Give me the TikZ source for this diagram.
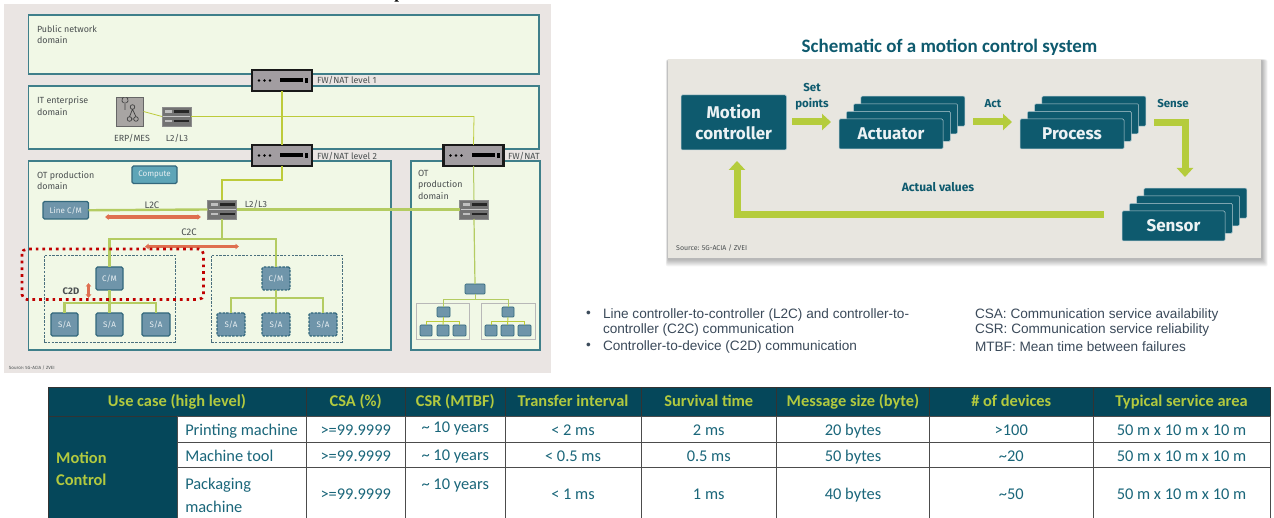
\documentclass[tikz,border=0pt]{standalone}
\usepackage{fontspec}
\setmainfont{Carlito}
\newfontfamily\fira{Fira Sans}
\newfontfamily\arial{Liberation Sans}
\newfontfamily\tms{Liberation Serif}
\usetikzlibrary{arrows.meta,calc}
\definecolor{dom}{HTML}{F1F8E6}
\definecolor{domline}{HTML}{3F7F8A}
\definecolor{panelA}{HTML}{EAE5E3}
\definecolor{panelB}{HTML}{E8E6E0}
\definecolor{devb}{HTML}{6F95AA}
\definecolor{devl}{HTML}{33687C}
\definecolor{gline}{HTML}{B4CC62}
\definecolor{yline}{HTML}{BDCB3A}
\definecolor{oarrow}{HTML}{DF6F50}
\definecolor{redd}{HTML}{C00000}
\definecolor{fwgrey}{HTML}{A29DA1}
\definecolor{tealc}{HTML}{0E5A6E}
\definecolor{lime2}{HTML}{B5CC3C}
\definecolor{thead}{HTML}{05475A}
\definecolor{thtext}{HTML}{B2C93F}
\definecolor{tbody}{HTML}{1A667A}
\definecolor{smallc}{HTML}{4A4F50}
\definecolor{bulletc}{HTML}{3B4A5A}
\tikzset{
  rectnode/.style={rectangle,inner sep=0pt,outer sep=0pt,align=center},
  dombox/.style={rectnode,fill=dom,draw=domline,line width=1.2pt},
  devbox/.style={rectnode,fill=devb,draw=devl,line width=1.3pt,rounded corners=1.5pt,text=white!85!devb,font=\fira\fontsize{8}{8}\selectfont},
  devd/.style={devbox,dash pattern=on 2.5pt off 1.2pt},
  minibox/.style={rectnode,fill=devb,draw=devl,line width=.7pt,rounded corners=1pt},
  groupbox/.style={rectnode,draw=devl!70!gray,line width=.9pt,dash pattern=on 2.5pt off 1.3pt},
  groupg/.style={rectnode,draw=black!28,line width=.7pt},
  fwnode/.style={rectnode,fill=fwgrey,draw=black!90,line width=2.6pt},
  swnode/.style={rectnode,fill=black!55,draw=black!45,line width=.6pt},
  lab/.style={inner sep=0pt,outer sep=0pt,text=smallc,font=\fira\fontsize{8.9}{11.2}\selectfont,align=left},
  thickline/.style={draw=gline,line width=2.4pt},
  thinline/.style={draw=gline,line width=1pt},
  ybus/.style={draw=yline,line width=1.1pt},
  oarr/.style={draw=oarrow,line width=3.2pt,{Latex[length=3.5pt,width=6.5pt]}-{Latex[length=3.5pt,width=6.5pt]}},
  tealbox/.style={rectnode,fill=tealc,draw=white!70!tealc,line width=.5pt,rounded corners=1.2pt,text=white!92!tealc,font=\fira\fontsize{17}{21}\selectfont\bfseries},
  tlab/.style={inner sep=0pt,outer sep=0pt,text=tealc,font=\fira\fontsize{11.5}{16}\selectfont\bfseries,align=center},
  limearrow/.style={draw=lime2,line width=7pt,-{Triangle[length=9pt,width=16pt]}},
  theadc/.style={rectnode,fill=thead,draw=black!80,line width=.7pt,text=thtext,font=\fontsize{16.4}{18}\selectfont\bfseries},
  tcell/.style={rectnode,fill=white,draw=black!70,line width=.8pt,text=tbody,font=\fontsize{16.4}{18}\selectfont},
  bulletxt/.style={inner sep=0pt,outer sep=0pt,anchor=west,text=bulletc,font=\arial\fontsize{13.6}{15}\selectfont},
}
\newcommand\dn[1]{\raisebox{-5.5pt}[0pt][0pt]{#1}}
% box by corners: style, name, x1, y1, x2, y2, text
\newcommand\bx[7]{%
  \pgfmathsetmacro\bxw{#5-(#3)}\pgfmathsetmacro\bxh{#6-(#4)}%
  \pgfmathsetmacro\bxx{(#3+#5)/2}\pgfmathsetmacro\bxy{(#4+#6)/2}%
  \node[#1,minimum width=\bxw pt,minimum height=\bxh pt] (#2) at (\bxx,\bxy) {#7};}
% firewall device
\newcommand\fwdev[3]{%
  \bx{fwnode}{#1}{#2}{#3}{#2+60}{#3+21}{}
  \foreach \dx in {7,12.5,18}{\fill[black] (#2+\dx,#3+10.5) circle (1.4);}
  \fill[black] (#2+28,#3+8.5) rectangle (#2+51,#3+12.5);
  \fill[black] (#2+53,#3+8) rectangle (#2+56,#3+13);}
% L2/L3 switch
\newcommand\swdev[3]{%
  \bx{swnode}{#1}{#2}{#3}{#2+29}{#3+19}{}
  \fill[black!22] (#2+1,#3+8.9) rectangle (#2+28,#3+10.1);
  \foreach \dy in {3.5,13}{
    \fill[black!85] (#2+12,#3+\dy) rectangle (#2+27,#3+\dy+2.4);
    \fill[black!25] (#2+3,#3+\dy) rectangle (#2+10,#3+\dy+2.4);}}
\begin{document}
\begin{tikzpicture}[x=1pt,y=-1pt,line join=miter]
\useasboundingbox (0,0) rectangle (1274,518);
\fill[white] (0,0) rectangle (1274,518);
\node[inner sep=0pt,anchor=base,font=\tms\bfseries\fontsize{17}{17}\selectfont] (cut) at (399,-1) {p};

% ---------- left panel
\fill[panelA] (4,4) rectangle (551,373);
\bx{dombox}{pub}{28.5}{15}{539}{74}{}
\bx{dombox}{it}{28.5}{86}{539}{149}{}
\bx{dombox}{ota}{28.5}{161}{391}{350}{}
\bx{dombox}{otb}{411}{161}{540}{350}{}
\node[lab,anchor=north west] (t1) at (37,25.5) {Public network\\domain};
\node[lab,anchor=north west] (t2) at (37,97) {IT enterprise\\domain};
\node[lab,anchor=north west] (t3) at (37,171.5) {OT production\\domain};
\node[lab,anchor=north west] (t4) at (418,170.5) {OT\\production\\domain};
\node[lab,anchor=west] (fwl1) at (317,80) {FW/NAT level 1};
\node[lab,anchor=west] (fwl2) at (317,156) {FW/NAT level 2};
\node[lab,anchor=west] (fwl3) at (508,156) {FW/NAT};
\node[lab,anchor=center] (erpl) at (132,138) {ERP/MES};
\node[lab,anchor=center] (l23a) at (177,138) {L2/L3};
\node[lab,anchor=center] (l23b) at (256,204) {L2/L3};
\node[lab,anchor=center,font=\fira\fontsize{9.5}{10}\selectfont] (l2c) at (152,205) {L2C};
\node[lab,anchor=center,font=\fira\fontsize{9.5}{10}\selectfont] (c2c) at (189,232) {C2C};
\node[lab,anchor=center,font=\fira\fontsize{9.5}{10}\selectfont\bfseries] (c2d) at (71,291) {C2D};
\node[lab,anchor=west,font=\fira\fontsize{4.5}{5}\selectfont] (srcA) at (9,368) {Source: 5G-ACIA / ZVEI};

\bx{groupbox}{ga}{44}{255}{175}{342}{}
\bx{groupbox}{gb}{211}{255}{342}{342}{}
\bx{groupg}{gc}{416}{303.5}{469}{339}{}
\bx{groupg}{gd}{481}{303.5}{535}{339}{}

% ERP
\bx{rectnode,fill=black!28!panelA,draw=black!60,line width=.8pt}{erp}{116}{97}{143.5}{126}{}
\draw[black!75,line width=.7pt] (123.5,103) arc (120:240:3.2) (126.5,103) arc (60:-60:3.2) (125,102) -- (125,110);
\draw[black!75,line width=.7pt] (132.5,107) circle (2.3) (129.5,119) circle (2.3) (136,119) circle (2.3) (132.5,109.3) -- (129.5,116.7) (132.5,109.3) -- (136,116.7) (131.8,119) -- (133.7,119);

\swdev{swit}{162}{107}
\swdev{swa}{207.5}{200}
\swdev{swb}{459.5}{200}
\fwdev{fw1}{252}{70}
\fwdev{fw2}{252}{145}
\fwdev{fw3}{443.5}{145}

\bx{devbox,fill=devb!85!cyan}{comp}{132}{166}{177}{183.5}{Compute}
\bx{devbox}{linecm}{43}{201.5}{88.5}{219}{Line C/M}
\bx{devbox}{cma}{96}{267}{123}{290}{C/M}
\bx{devd}{cmb}{262}{267}{290}{290}{C/M}
\bx{devbox}{sa1}{51}{313}{78}{336}{S/A}
\bx{devbox}{sa2}{96}{313}{123}{336}{S/A}
\bx{devbox}{sa3}{142}{313}{170}{336}{S/A}
\bx{devd}{sb1}{217}{313}{245}{336}{S/A}
\bx{devd}{sb2}{262}{313}{290}{336}{S/A}
\bx{devd}{sb3}{309}{313}{337}{336}{S/A}
\bx{minibox}{topb}{465}{284}{485}{294}{}
\bx{minibox}{ma}{437}{307}{450}{317}{}
\bx{minibox}{mb}{502}{307}{514}{317}{}
\bx{minibox}{l1}{420}{325}{432}{336}{}
\bx{minibox}{l2}{437}{325}{449}{336}{}
\bx{minibox}{l3}{453}{325}{466}{336}{}
\bx{minibox}{l4}{485}{325}{497}{336}{}
\bx{minibox}{l5}{501}{325}{514}{336}{}
\bx{minibox}{l6}{518}{325}{531}{336}{}

% connectors
\draw[yline,line width=1.2pt] (fw1.south) -- (fw2.north);
\draw[ybus,line width=1.6pt] (fw2.south) -- ++(0,14) -| (swa.north);
\draw[ybus,line width=.8pt] (erp.east) -- (swit.west);
\draw[ybus,line width=.8pt] (swit.east) -- (474,116.5) -- (fw3.north);
\draw[thinline] (fw3.south) -- (swb.north);
\draw[thickline] (linecm.east) -- (swa.west);
\draw[thickline] (swa.east) -- (swb.west);
\draw[thinline,line width=1.2pt] (swb.south) -- (topb.north);
\draw[thickline] (swa.south) -- (222,239);
\draw[thickline] (cma.north) -- (109.5,239) -- (276,239) -- (cmb.north);
\draw[thickline] (cma.south) -- (sa2.north);
\draw[thickline] (sa1.north) -- (64.5,303) -- (156,303) -- (sa3.north);
\draw[thickline] (cmb.south) -- (sb2.north);
\draw[thickline] (sb1.north) -- (231,298) -- (323,298) -- (sb3.north);
\draw[thinline] (topb.south) -- (475,300);
\draw[thinline] (ma.north) -- (443.5,300) -- (508,300) -- (mb.north);
\draw[ybus,line width=.9pt] (ma.south) -- (l2.north);
\draw[ybus,line width=.9pt] (l1.north) -- (426,321) -- (459.5,321) -- (l3.north);
\draw[ybus,line width=.9pt] (mb.south) -- (l5.north);
\draw[ybus,line width=.9pt] (l4.north) -- (491,321) -- (524.5,321) -- (l6.north);
\coordinate (la) at (105,217); \coordinate (lb) at (201,217);
\draw[oarr] (la) -- (lb);
\coordinate (ca) at (145,246.5); \coordinate (cb) at (239,246.5);
\draw[oarr] (ca) -- (cb);
\coordinate (da) at (88.5,283); \coordinate (db) at (88.5,298);
\draw[oarr] (da) -- (db);
\coordinate (rd) at (22,249);
\draw[redd,line width=2.7pt,dash pattern=on 2.7pt off 4pt,rounded corners=5pt] (rd) rectangle (203.5,299.5);

% ---------- right panel
\foreach \i in {1,...,7}{
  \fill[black,opacity=.045,rounded corners=2pt] ($(668,60)+(-\i*.3,-\i*.1)$) rectangle ($(1262,259.5)+(\i*.8,\i*1.0)$);}
\fill[panelB] (668,59) rectangle (1261,258);
\node[inner sep=0pt,text=tealc,font=\fontsize{19}{22}\selectfont\bfseries] (title) at (949.5,47) {Schematic of a motion control system};
\bx{tealbox}{mc}{681}{95}{786.5}{150}{Motion\\controller}
\newcommand\stk[5]{%
  \foreach \k in {3,2,1}{
    \bx{tealbox}{#1\k}{#2+\k*7.3}{#3-\k*7.6}{#4+\k*7.3}{#3-\k*7.6+30}{}}
  \bx{tealbox}{#1}{#2}{#3}{#4}{#3+30}{\raisebox{-5.5pt}[0pt][0pt]{#5}}}
\stk{act}{839}{119}{943}{Actuator}
\stk{proc}{1020}{119}{1124}{Process}
\stk{sens}{1122}{211}{1225}{Sensor}
\node[tlab] (setp) at (812,96.5) {Set\\points};
\node[tlab] (actl) at (993,104) {Act};
\node[tlab] (sensel) at (1173,104) {Sense};
\node[tlab,font=\fira\fontsize{12}{16}\selectfont\bfseries] (av) at (938,187) {Actual values};
\node[inner sep=0pt,anchor=west,text=smallc,font=\fira\fontsize{7}{8}\selectfont] (srcB) at (676,248) {Source: 5G-ACIA / ZVEI};
\coordinate (a1) at (792,122); \coordinate (a2) at (831,122);
\coordinate (a3) at (973,122); \coordinate (a4) at (1012,122);
\draw[limearrow] (a1) -- (a2);
\draw[limearrow] (a3) -- (a4);
\coordinate (s1) at (1154,123); \coordinate (s2) at (1185,177);
\draw[limearrow] (s1) -| (s2);
\coordinate (f1) at (1104,215); \coordinate (f2) at (737,161);
\draw[limearrow] (f1) -| (f2);

% ---------- notes
\node[bulletxt] (b1) at (586,314.5) {•};
\node[bulletxt] (n1) at (603,314.5) {Line controller-to-controller (L2C) and controller-to-};
\node[bulletxt] (n2) at (603,330) {controller (C2C) communication};
\node[bulletxt] (b2) at (586,346.5) {•};
\node[bulletxt] (n3) at (603,346.5) {Controller-to-device (C2D) communication};
\node[bulletxt] (n4) at (975,314.5) {CSA: Communication service availability};
\node[bulletxt] (n5) at (975,330) {CSR: Communication service reliability};
\node[bulletxt] (n6) at (975,346.5) {MTBF: Mean time between failures};

% ---------- table
\bx{theadc}{h1}{48}{387}{306}{416}{\dn{Use case (high level)}}
\bx{theadc}{h2}{306}{387}{405.5}{416}{\dn{CSA (\%)}}
\bx{theadc}{h3}{405.5}{387}{505}{416}{\dn{CSR (MTBF)}}
\bx{theadc}{h4}{505}{387}{641}{416}{\dn{Transfer interval}}
\bx{theadc}{h5}{641}{387}{776.5}{416}{\dn{Survival time}}
\bx{theadc}{h6}{776.5}{387}{929.5}{416}{\dn{Message size (byte)}}
\bx{theadc}{h7}{929.5}{387}{1093}{416}{\dn{\# of devices}}
\bx{theadc}{h8}{1093}{387}{1270}{416}{\dn{Typical service area}}
\bx{theadc}{mcl}{48}{416}{177.5}{518}{}
\node[inner sep=0pt,anchor=north west,text=thtext,align=left,font=\fontsize{16.4}{22}\selectfont\bfseries] (mct) at (56,451.5) {Motion\\Control};
\newcommand\trow[9]{%
  \foreach \xa/\xb/\txt/\nm in {306/405.5/#3/a,405.5/505/#4/b,505/641/#5/c,641/776.5/#6/d,776.5/929.5/#7/e,929.5/1093/#8/f,1093/1270/#9/g}{
    \bx{tcell}{r#1\nm}{\xa}{#2}{\xb}{\rowend}{\raisebox{-6.5pt}[0pt][0pt]{\txt}}}}
\def\rowend{442}\trow{1}{416}{>=99.9999}{\raisebox{3.5pt}{\char`\~{} 10 years}}{< 2 ms}{2 ms}{20 bytes}{>100}{50 m x 10 m x 10 m}
\def\rowend{467}\trow{2}{442}{>=99.9999}{\raisebox{1pt}{\char`\~{} 10 years}}{< 0.5 ms}{0.5 ms}{50 bytes}{\char`\~20}{50 m x 10 m x 10 m}
\def\rowend{518}\trow{3}{467}{>=99.9999}{\raisebox{10pt}{\char`\~{} 10 years}}{< 1 ms}{1 ms}{40 bytes}{\char`\~50}{50 m x 10 m x 10 m}
\bx{tcell}{u1}{177.5}{416}{306}{442}{\raisebox{-6.5pt}[0pt][0pt]{\makebox[113pt][l]{Printing machine}}}
\bx{tcell}{u2}{177.5}{442}{306}{467}{\raisebox{-6.5pt}[0pt][0pt]{\makebox[113pt][l]{Machine tool}}}
\bx{tcell,font=\fontsize{16.4}{23}\selectfont}{u3}{177.5}{467}{306}{518}{\makebox[113pt][l]{\rule{0pt}{17pt}Packaging}\\\makebox[113pt][l]{machine}}
\end{tikzpicture}
\end{document}
